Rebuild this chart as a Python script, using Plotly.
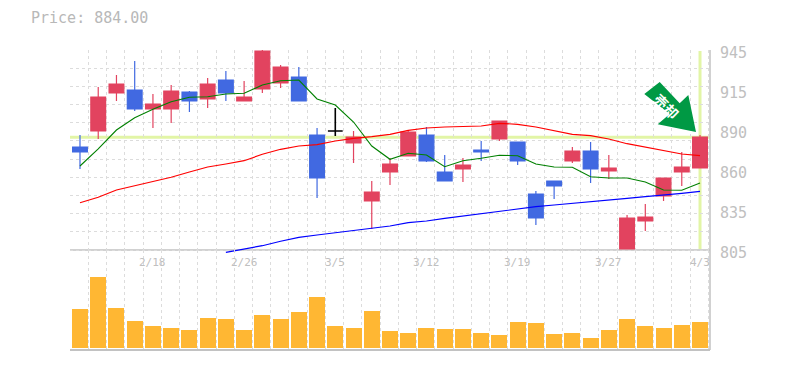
import plotly.graph_objects as go

dates = ["2/12","2/13","2/14","2/15","2/18","2/19","2/20","2/21","2/22","2/26","2/27","2/28","3/1","3/4","3/5","3/6","3/7","3/8","3/11","3/12","3/13","3/14","3/15","3/18","3/19","3/20","3/22","3/25","3/26","3/27","3/28","3/29","4/1","4/2","4/3"]
label_dates = ["2/18","2/26","3/5","3/12","3/19","3/27","4/3"]

opens  = [877.1,888.3,914.9,917.0,903.7,903.7,915.6,910.7,924.0,909.3,917.7,921.9,926.1,885.5,888.3,879.9,839.3,859.6,870.8,885.5,859.6,861.7,875.0,882.7,880.6,844.2,853.3,867.3,874.3,860.3,805.7,825.3,842.8,859.6,862.4]
highs  = [885.5,919.1,927.5,937.3,914.2,920.5,916.3,925.4,930.3,923.3,946.0,934.5,933.1,890.4,904.4,888.3,853.3,869.4,889.0,891.1,871.5,869.4,881.3,895.3,880.6,846.3,853.3,877.1,880.6,871.5,829.5,837.2,855.4,873.6,885.5]
lows   = [861.7,882.7,909.3,902.3,890.4,893.9,901.6,904.4,909.3,909.3,914.9,918.4,909.3,841.4,884.8,865.9,819.7,850.5,870.8,866.6,853.3,852.6,867.3,881.3,864.5,822.5,840.7,865.9,851.9,854.7,805.7,818.3,839.3,849.8,862.4]
closes = [873.6,912.1,921.2,903.7,907.2,916.3,909.3,921.2,914.9,912.1,944.3,933.1,909.3,855.4,888.3,884.1,845.6,865.2,887.6,867.3,853.3,864.5,873.6,895.3,867.3,827.4,849.8,874.3,861.7,862.4,827.4,828.1,855.4,863.1,884.1]

ma_short = [863.8,875.8,889.0,897.6,903.5,908.8,911.9,912.3,914.2,914.7,920.5,923.5,924.0,910.7,906.5,894.6,877.8,868.5,872.7,871.5,863.3,867.5,869.2,871.3,871.0,865.2,863.1,862.9,856.3,855.4,855.4,852.6,847.0,846.8,851.9]
ma_mid   = [838.1,841.9,847.0,850.0,853.1,855.9,859.6,863.1,865.2,867.5,872.0,875.5,877.8,878.7,881.3,883.2,884.3,886.0,888.8,890.4,891.1,891.6,891.8,893.7,893.0,891.1,888.5,886.0,885.0,882.7,879.4,877.1,874.3,872.2,871.0]
ma_long  = [None,None,None,None,None,None,None,None,803.4,805.5,808.0,811.1,813.9,815.5,817.1,818.3,819.9,821.8,824.1,825.3,827.2,828.8,830.7,832.3,833.9,835.3,836.5,837.7,839.3,840.5,841.2,842.3,843.3,844.7,846.1]

volumes = [39,71,40,27,22,20,18,30,29,18,33,29,36,51,22,20,37,17,15,20,19,19,15,13,26,25,14,15,10,18,29,22,20,23,26]

price_label_values = [945,917,889,861,833,805]
price_label_texts = ["945","915","890","860","835","805"]
current_price = 884.00

RED = "#e2435f"; BLUE = "#4169e1"; GRID = "#dcdcdc"; AXIS = "#c2c2c2"; TXT = "#c0c0c0"; HL = "#e2f5a6"; GREEN = "#009944"
MONO = "DejaVu Sans Mono"
W, H, L, R, T, B = 785, 370, 70, 75, 50, 20
idx = list(range(len(dates)))

def px(x): return (x - L) / (W - L - R)
def py(y): return (H - B - y) / (H - T - B)

is_doji = [o == c for o, c in zip(opens, closes)]
normal = [not d for d in is_doji]

fig = go.Figure()
for vals, col, lw in [(ma_short, "#008000", 1.1), (ma_mid, "#ff0000", 1.2), (ma_long, "#0000ff", 1.2)]:
    fig.add_trace(go.Scatter(x=idx, y=vals, mode="lines", line=dict(color=col, width=lw),
                             hoverinfo="skip", showlegend=False, xaxis="x", yaxis="y"))
common = dict(whiskerwidth=0, hoverinfo="skip", showlegend=False, xaxis="x", yaxis="y")
for keep, up, dn, lw in [(normal, RED, BLUE, 1.2), (is_doji, "#000000", "#000000", 1.6)]:
    fig.add_trace(go.Candlestick(
        x=[i for i, k in zip(idx, keep) if k],
        open=[v for v, k in zip(opens, keep) if k],
        high=[v for v, k in zip(highs, keep) if k],
        low=[v for v, k in zip(lows, keep) if k],
        close=[v for v, k in zip(closes, keep) if k],
        increasing=dict(line=dict(color=up, width=lw), fillcolor=up),
        decreasing=dict(line=dict(color=dn, width=lw), fillcolor=dn),
        **common))
fig.add_trace(go.Bar(x=idx, y=volumes, width=0.877, marker=dict(color="#ffb733", line=dict(width=0)),
                     hoverinfo="skip", showlegend=False, xaxis="x2", yaxis="y2"))

xcommon = dict(range=[-0.548, 34.548], tick0=0.46, dtick=1, showgrid=True, gridcolor=GRID, griddash="3px,3px",
               gridwidth=1, showticklabels=False, ticks="", zeroline=False, showline=False, fixedrange=True)
fig.update_layout(
    width=W, height=H, margin=dict(l=L, r=R, t=T, b=B), paper_bgcolor="white", plot_bgcolor="rgba(0,0,0,0)",
    boxmode="overlay", boxgap=0.19, boxgroupgap=0, bargap=0, showlegend=False, hovermode=False,
    xaxis=dict(xcommon, anchor="y", rangeslider=dict(visible=False)),
    xaxis2=dict(xcommon, anchor="y2"),
    yaxis=dict(domain=[py(254), 1], range=[802.2, 945], tick0=805, dtick=140 / 11, showgrid=True, gridcolor=GRID,
               griddash="3px,3px", gridwidth=1, showticklabels=False, ticks="", zeroline=False, fixedrange=True),
    yaxis2=dict(domain=[0, py(250)], range=[-2, 98], showgrid=False, showticklabels=False, ticks="",
                zeroline=False, fixedrange=True),
)

shapes = [
    dict(type="line", xref="paper", yref="y", x0=0, x1=1, y0=current_price, y1=current_price, layer="below", line=dict(color=HL, width=3)),
    dict(type="line", xref="x", yref="y", x0=idx[-1], x1=idx[-1], y0=805.7, y1=944.3, layer="below", line=dict(color=HL, width=3)),
    dict(type="line", xref="paper", yref="y", x0=0, x1=1, y0=805, y1=805, layer="below", line=dict(color=AXIS, width=1.5)),
    dict(type="line", xref="paper", yref="paper", x0=0, x1=1, y0=0, y1=0, layer="above", line=dict(color=AXIS, width=2)),
    dict(type="line", xref="paper", yref="paper", x0=1, x1=1, y0=0, y1=1, layer="above", line=dict(color=AXIS, width=1.5)),
]
arrow = [(659.7, 82), (679.7, 103.3), (688.3, 95), (696, 132), (657.7, 124.3), (669.7, 114), (644.3, 94)]
path = "M" + " L".join(f"{px(x):.5f},{py(y):.5f}" for x, y in arrow) + " Z"
shapes.append(dict(type="path", xref="paper", yref="paper", path=path, fillcolor=GREEN, line=dict(width=0), layer="above"))
fig.update_layout(shapes=shapes)

ann = [dict(xref="paper", yref="paper", x=px(29), y=py(18), text=f"Price: {current_price:.2f}", showarrow=False,
            xanchor="left", yanchor="middle", font=dict(family=MONO, size=15, color="#b8b8b8"))]
for v, t in zip(price_label_values, price_label_texts):
    ann.append(dict(xref="paper", yref="y", x=px(718), y=v, yshift=-3, text=t, showarrow=False, xanchor="left",
                    yanchor="middle", font=dict(family=MONO, size=15, color=TXT)))
for d in label_dates:
    ann.append(dict(xref="x2", yref="paper", x=dates.index(d), y=py(262), text=d, showarrow=False, xanchor="center",
                    yanchor="middle", font=dict(family=MONO, size=11, color=TXT)))
ann.append(dict(xref="paper", yref="paper", x=px(666.5), y=py(105.5), text="<b>売却</b>", textangle=45, showarrow=False,
                xanchor="center", yanchor="middle", font=dict(family="Noto Sans CJK JP", size=14, color="white")))
fig.update_layout(annotations=ann)

fig.write_html("out.html", config=dict(displayModeBar=False, responsive=False),
               post_script="document.body.style.margin='0';document.body.style.overflow='hidden';")
